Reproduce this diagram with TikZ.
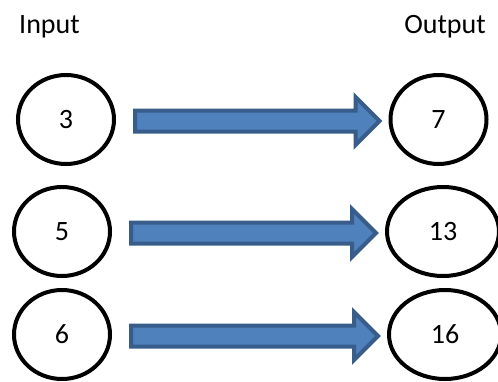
\documentclass[tikz,border=0pt]{standalone}
\usepackage{fontspec}
\setmainfont{Carlito}
\usetikzlibrary{shapes,calc,positioning}
\definecolor{arrowfill}{HTML}{4F81BD}
\definecolor{arrowline}{HTML}{385D8A}

\begin{document}
\begin{tikzpicture}[x=1pt,y=-1pt,
  txt/.style={font=\fontsize{28}{34}\selectfont},
  val/.style={txt,draw,ellipse,line width=4pt,inner sep=0pt,minimum width=96pt,minimum height=89pt},
  wideval/.style={val,minimum width=112pt},
  blockarrow/.style={fill=arrowfill,draw=arrowline,line width=4pt,line join=miter}]
\useasboundingbox (0,0) rectangle (498,381);

%Headings
\node[txt,anchor=base] (inhead) at (49.5,33) {Input};
\node[txt,anchor=base] (outhead) at (445,33) {Output};

%Inputs
\node[val] (in1) at (66,119.5) {3};
\node[val] (in2) at (62,231.5) {5};
\node[val] (in3) at (62,334.5) {6};

%Outputs
\node[val] (out1) at (438.5,119.5) {7};
\node[wideval] (out2) at (443,231.5) {13};
\node[wideval] (out3) at (445,334.5) {16};

% Arrows
\foreach \i in {1,2,3}
\draw[blockarrow] let \p1=([xshift=19pt,yshift=-1.5pt]in\i.east), \p2=([xshift=-9pt]out\i.west) in
  (\x1,{\y1+10.5pt}) -- ({\x2-24pt},{\y1+10.5pt}) -- ({\x2-24pt},{\y1+24pt})
  -- (\x2,\y1) -- ({\x2-24pt},{\y1-24pt}) -- ({\x2-24pt},{\y1-10.5pt}) -- (\x1,{\y1-10.5pt}) -- cycle;

\end{tikzpicture}
\end{document}
